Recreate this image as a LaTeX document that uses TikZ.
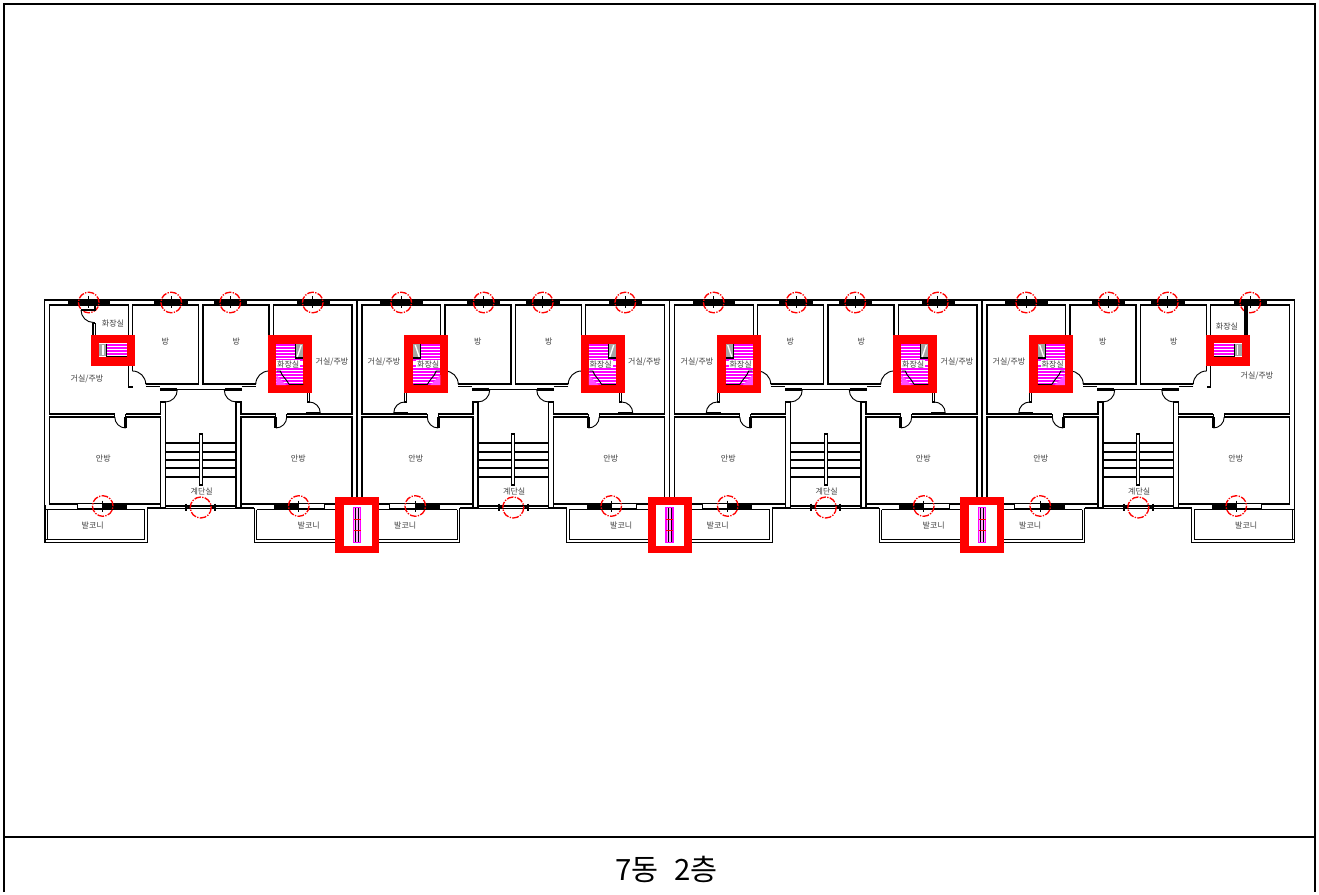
\documentclass[tikz,border=0pt]{standalone}
\usepackage{fontspec}
\setmainfont{Noto Sans CJK KR}
\definecolor{mag}{RGB}{255,0,255}
\tikzset{
 wall/.style={draw=black,line width=1pt,line join=miter},
 leaf/.style={draw=black,line width=1.9pt},
 swing/.style={draw=black,line width=.7pt},
 winmark/.style={draw=red,line width=1pt,dash pattern=on 5pt off 1pt on 1pt off 1pt},
 lbl/.style={font=\fontsize{6}{6}\selectfont,text=black!75,inner sep=0pt},
 hatchline/.style={draw=mag,line width=1pt},
}
\newcommand{\wingplan}[4]{%
\begin{scope}[shift={(#1,0)},xscale=#2]
 \draw[wall] (0,300)--(156.25,300)--(156.25,506);
 \draw[wall] (68.25,371)--(68.25,305)--(2.25,305)--(2.25,384)--(55,384);
 \draw[wall] (55,386.5)--(41,386.5);
 \draw[wall] (72.5,387)--(68.25,387) (72.5,387)--(72.5,305)--(151.25,305)--(151.25,414)--(86,414);
 \draw[wall] (75,414)--(40.25,414)--(40.25,402);
 \draw[wall] (75,417)--(40.25,417)--(40.25,508) (86,417)--(151.25,417)--(151.25,504)--(40.25,504);
 \draw[wall] (75,414)--(75,417) (86,414)--(86,417);
 \draw[leaf] (75,417)--(75,428);
 \draw[swing] (75,428) arc (90:0:11);
 \draw[swing] (68.25,371) arc (-90:-180:13.25);
 \draw[wall] (0,389.5)--(24,389.5);
 \draw[leaf] (24,389.5)--(41,389.5);
 \draw[swing] (23.5,390) arc (180:90:12);
 \draw[wall] (35.25,402)--(35.25,508);
 \draw[leaf] (34.7,402)--(40.8,402);
 \foreach \yy in {443,452,460,468,477} \draw[wall,line width=.9pt] (0,\yy)--(35.25,\yy);
 \draw[wall] (0,506)--(35.25,506) (0,508.2)--(35.25,508.2);
 \draw[leaf,line width=1.2pt] (14.5,503.5)--(14.5,510.5);
 \fill[black] (14.5,507) -- (11,504.8) -- (11,509.2) -- cycle;
 \draw[wall] (35.25,508)--(53.5,508);
 \draw[wall] (53.5,508)--(53.5,542.5)--(156.25,542.5);
 \draw[wall] (56,509.5)--(56,539.5)--(156.25,539.5) (56,509.5)--(156.25,509.5);
 \fill[white] (98,503.5) rectangle (123.5,508.5);
 \draw[wall,line width=.9pt] (98,503.7) rectangle (123.5,508.3);
 \fill[black] (73.4,503) rectangle (98.5,508.8);
 \draw[leaf,line width=.7pt] (98,500.5)--(98,511.5);
 \fill[black] (13,299.6) rectangle (46.5,305.4);
 \fill[black] (#3,299.6) rectangle (#4,305.4);
 \draw[black,line width=.7pt] (29.5,296)--(29.5,308) (112,296)--(112,308);
 \node[lbl] at (35.5,341) {방};
 \node[lbl] at (97.5,458) {안방};
 \node[lbl] at (108,525.5) {발코니};
 \draw[winmark] (29.5,302.5) circle (10.3);
 \draw[winmark] (112,302.5) circle (10.3);
 \draw[winmark] (98,506) circle (10.3);
\end{scope}}
\newcommand{\unitplan}[1]{%
 \draw[wall,fill=white] (#1-1.5,434) rectangle (#1+1.5,485);
 \node[lbl] at (#1+1,491) {계단실};
 \draw[winmark] (#1,507.5) circle (10.5);
}
\newcommand{\tallbath}[3]{%
\begin{scope}[shift={(#1,0)},xscale=#2]
 \draw[wall] (106.5,393)--(106.5,402)--(108.5,402)--(108.5,393);
 \draw[swing] (108.5,402) arc (-90:0:11);
 \draw[leaf] (105,413.3)--(119.5,413.3);
 \fill[red] (#3,335) rectangle (#3+44,393);
 \fill[white] (#3+8,344) rectangle (#3+35,385);
 \foreach \yy in {345,348,...,357} \draw[hatchline] (#3+8,\yy)--(#3+27.5,\yy);
 \foreach \yy in {369,372,...,384} \draw[hatchline] (#3+8,\yy)--(#3+35,\yy);
 \fill[mag] (#3+8,359) rectangle (#3+35,361);
 \fill[mag] (#3+8,365) rectangle (#3+35,367);
 \fill[black!35] (#3+27.5,344) rectangle (#3+35,358);
 \draw[black,line width=.9pt] (#3+27.5,344)--(#3+27.5,358)--(#3+35,358);
 \draw[white,line width=1pt] (#3+29,357)--(#3+33,345);
 \fill[mag!70] (#3+8,375)--(#3+18,385)--(#3+8,385)--cycle;
 \draw[black,line width=.7pt] (#3+8.5,371)--(#3+12,371)--(#3+14,375)--(#3+18,380)--(#3+21,384.5)--(#3+35,384.5);
 \node[lbl,fill=white,inner sep=.6pt] at (#3+20,364) {화장실};
\end{scope}}
\newcommand{\smallbath}[3]{%
\begin{scope}[shift={(#1,0)},xscale=#2]
 \fill[red] (#3,335) rectangle (#3+44,366);
 \fill[white] (#3+8,343) rectangle (#3+36,357);
 \foreach \yy in {345,348,...,354} \draw[hatchline] (#3+8,\yy)--(#3+28,\yy);
 \fill[black!35] (#3+29,343.5) rectangle (#3+36,356);
 \draw[black,line width=.9pt] (#3+28.5,343.5)--(#3+28.5,356.5)--(#3+8,356.5);
 \draw[white,line width=1pt] (#3+32,345)--(#3+32,355);
\end{scope}}
\newcommand{\shaftbox}[1]{%
 \fill[red] (#1-21.7,496.7) rectangle (#1+22.3,553.3);
 \fill[white] (#1-13.5,504.5) rectangle (#1+14.5,545.5);
 \draw[mag,line width=.9pt,fill=mag!35] (#1-3.5,507.7) rectangle (#1+3.5,542.3);
 \draw[black,line width=.7pt] (#1-1.5,507.7)--(#1-1.5,542.3) (#1+1.5,507.7)--(#1+1.5,542.3);
 \draw[red,line width=.9pt] (#1-3.5,519.3)--(#1+3.5,519.3) (#1-3.5,530.7)--(#1+3.5,530.7);
}
\begin{document}
\begin{tikzpicture}[x=.75pt,y=-.75pt]
\useasboundingbox (0,0) rectangle (1319,894);
\fill[white] (0,0) rectangle (1319,894);
\foreach \cc in {200.75,513.25,825.75,1138.25}{
  \wingplan{\cc}{-1}{90.5}{133}
  \wingplan{\cc}{1}{96}{129}
  \unitplan{\cc}
}
\draw[wall] (45,505)--(45,542.5)--(147.25,542.5);
\draw[wall] (47.3,509.5)--(47.3,539.5);
\draw[wall] (1294.5,505)--(1294.5,542.5);
\draw[wall] (1292.2,509.5)--(1292.2,539.5);
% unit 1, left: closet
\draw[wall] (81,310)--(95,310)--(95,305);
\draw[swing] (81,310) arc (180:90:12.5);
\draw[wall] (93,323)--(93,335) (95.2,323)--(95.2,335) (93,323)--(95.2,323);
% unit 4, right: stub
\draw[leaf,line width=2.4pt] (1246,305)--(1246,335);
\smallbath{200.75}{-1}{65.75}
\tallbath{200.75}{1}{67.5}
\tallbath{513.25}{-1}{65}
\tallbath{513.25}{1}{67.5}
\tallbath{825.75}{-1}{65}
\tallbath{825.75}{1}{67.5}
\tallbath{1138.25}{-1}{65.5}
\smallbath{1138.25}{1}{67.5}
\shaftbox{357}
\shaftbox{669.5}
\shaftbox{982}
\node[lbl] at (87,379) {거실/주방};
\node[lbl] at (113,323) {화장실};
\node[lbl] at (332,362) {거실/주방};
\node[lbl] at (384,362) {거실/주방};
\node[lbl] at (644.5,362) {거실/주방};
\node[lbl] at (697,362) {거실/주방};
\node[lbl] at (957,362) {거실/주방};
\node[lbl] at (1009,362) {거실/주방};
\node[lbl] at (1227,326) {화장실};
\node[lbl] at (1257,376) {거실/주방};
\draw[black,line width=1.5pt] (4,892)--(4,4)--(1315,4)--(1315,892);
\draw[black,line width=1.5pt] (4,837)--(1315,837);
\node[font=\fontsize{22}{22}\selectfont,text=black,inner sep=0pt] at (666.5,869) {7동\hspace{.3em} 2층};
\end{tikzpicture}
\end{document}
